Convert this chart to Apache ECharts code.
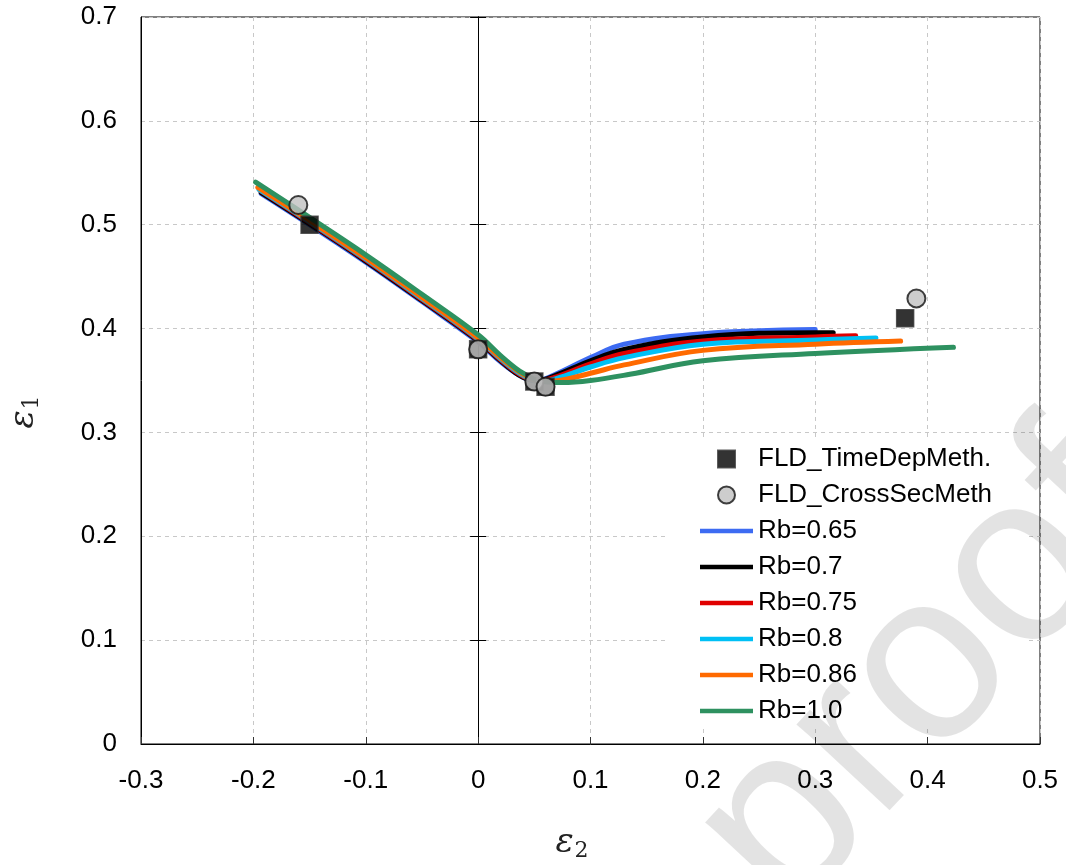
<!DOCTYPE html>
<html><head><meta charset="utf-8">
<script src="https://cdn.jsdelivr.net/npm/echarts@6/dist/echarts.min.js"></script>
<style>html,body{margin:0;padding:0;background:#fff}#c{width:1066px;height:865px}</style>
</head><body><div id="c"></div>
<script>
// ---- data ----
const xMin = -0.3, xMax = 0.5, yMin = 0, yMax = 0.7, tickStep = 0.1;
const timeDepPts = [[-0.15,0.50],[0.0,0.38],[0.05,0.349],[0.06,0.344],[0.38,0.41]];
const crossSecPts = [[-0.16,0.519],[0.0,0.38],[0.05,0.349],[0.06,0.344],[0.39,0.429]];
const rb065 = [[-0.193,0.530],[-0.15,0.500],[-0.1,0.464],[-0.05,0.426],[0,0.387],[0.02,0.368],[0.04,0.353],[0.052,0.350],[0.067,0.355],[0.10,0.372],[0.13,0.385],[0.2,0.395],[0.3,0.399]];
const rb07  = [[-0.193,0.531],[-0.15,0.501],[-0.1,0.465],[-0.05,0.427],[0,0.388],[0.02,0.369],[0.04,0.353],[0.053,0.350],[0.067,0.354],[0.10,0.369],[0.13,0.380],[0.2,0.392],[0.3,0.396],[0.316,0.396]];
const rb075 = [[-0.194,0.533],[-0.15,0.502],[-0.1,0.466],[-0.05,0.428],[0,0.389],[0.02,0.370],[0.04,0.354],[0.054,0.350],[0.068,0.353],[0.10,0.366],[0.13,0.376],[0.2,0.388],[0.3,0.392],[0.336,0.393]];
const rb08  = [[-0.195,0.534],[-0.15,0.503],[-0.1,0.467],[-0.05,0.429],[0,0.390],[0.02,0.371],[0.04,0.355],[0.055,0.349],[0.07,0.352],[0.10,0.363],[0.13,0.372],[0.2,0.385],[0.3,0.389],[0.354,0.391]];
const rb086 = [[-0.196,0.536],[-0.15,0.504],[-0.1,0.468],[-0.05,0.430],[0,0.391],[0.02,0.372],[0.04,0.356],[0.056,0.349],[0.072,0.350],[0.10,0.357],[0.13,0.365],[0.2,0.379],[0.3,0.385],[0.376,0.388]];
const rb10  = [[-0.198,0.541],[-0.15,0.507],[-0.1,0.471],[-0.05,0.433],[0,0.394],[0.02,0.374],[0.04,0.357],[0.058,0.349],[0.075,0.348],[0.10,0.350],[0.135,0.356],[0.2,0.369],[0.3,0.376],[0.423,0.382]];
const curveNames = ['Rb=0.65','Rb=0.7','Rb=0.75','Rb=0.8','Rb=0.86','Rb=1.0'];
const curveData = [rb065, rb07, rb075, rb08, rb086, rb10];
const curveColors = ['#3d6bf2','#000000','#e00000','#00c0f5','#ff6a00','#2e9160'];

const fmt = v => { const r = Math.round(v*10)/10; return r === 0 ? '0' : String(r); };
const FONT = 'Liberation Sans, Arial, sans-serif';

const chart = echarts.init(document.getElementById('c'));
const lineSeries = curveNames.map((n,i) => ({
  name: n, type: 'line', data: curveData[i], symbol: 'none', showSymbol: false,
  smooth: 0.4, z: 2,
  lineStyle: { color: curveColors[i], width: 5, cap: 'round' }, itemStyle: { color: curveColors[i] }
}));
const yBase = { type: 'value', min: yMin, max: yMax, interval: tickStep };
chart.setOption({
  animation: false,
  backgroundColor: '#fff',
  grid: { left: 141, right: 26, top: 17, bottom: 121, show: true, borderColor: '#000', borderWidth: 1, backgroundColor: 'transparent' },
  xAxis: {
    type: 'value', min: xMin, max: xMax, interval: tickStep,
    axisLine: { onZero: false, lineStyle: { color: '#000', width: 1 } },
    axisTick: { show: true, inside: true, length: 7, lineStyle: { color: '#333' } },
    axisLabel: { color: '#000', fontSize: 26, fontFamily: FONT, margin: 24, formatter: fmt },
    splitLine: { show: true, lineStyle: { color: '#c8c8c8', type: [4,4], width: 1 } }
  },
  yAxis: [
    Object.assign({}, yBase, {
      position: 'left',
      axisLine: { show: true, onZero: false, lineStyle: { color: '#000' } },
      axisTick: { show: false },
      axisLabel: { color: '#000', fontSize: 26, fontFamily: FONT, margin: 24, formatter: fmt },
      splitLine: { show: true, lineStyle: { color: '#c8c8c8', type: [4,4], width: 1 } }
    }),
    Object.assign({}, yBase, {
      position: 'left',
      axisLine: { show: true, onZero: true, onZeroAxisIndex: 0, lineStyle: { color: '#000' } },
      axisTick: { show: true, inside: true, length: 8, lineStyle: { color: '#000' } },
      axisLabel: { show: false }, splitLine: { show: false }
    }),
    Object.assign({}, yBase, {
      position: 'left',
      axisLine: { show: true, onZero: true, onZeroAxisIndex: 0, lineStyle: { color: '#000' } },
      axisTick: { show: true, inside: false, length: 8, lineStyle: { color: '#000' } },
      axisLabel: { show: false }, splitLine: { show: false }
    })
  ],
  legend: {
    orient: 'vertical', left: 667, top: 441,
    padding: [5, 33, 5, 33], backgroundColor: '#fff',
    itemWidth: 53, itemHeight: 17, itemGap: 10,
    textStyle: { color: '#000', fontSize: 26, fontFamily: FONT },
    data: [
      { name: 'FLD_TimeDepMeth.', icon: 'path://M0,0h10v10h-10z' },
      { name: 'FLD_CrossSecMeth', icon: 'circle' }
    ].concat(curveNames.map(n => ({ name: n, icon: 'path://M0,0h53v4.5h-53z' })))
  },
  graphic: [
    { type: 'text', x: 572, y: 843, z: 10,
      style: { text: '{e|ε}{s|2}', textAlign: 'center', textVerticalAlign: 'middle',
        rich: { e: { fontFamily: 'DejaVu Serif', fontStyle: 'italic', fontSize: 34, fill: '#222' },
                s: { fontFamily: 'DejaVu Serif', fontSize: 22, fill: '#222', padding: [16,0,0,1] } } } },
    { type: 'text', x: 24, y: 412, rotation: Math.PI/2, z: 10,
      style: { text: '{e|ε}{s|1}', textAlign: 'center', textVerticalAlign: 'middle',
        rich: { e: { fontFamily: 'DejaVu Serif', fontStyle: 'italic', fontSize: 34, fill: '#222' },
                s: { fontFamily: 'DejaVu Serif', fontSize: 22, fill: '#222', padding: [16,0,0,1] } } } },
    { type: 'text', x: 1112, y: 475, rotation: 47*Math.PI/180, z: 100, silent: true,
      style: { text: 'Journal Pre-proof', textAlign: 'right', textVerticalAlign: 'middle',
        fontSize: 240, fontFamily: FONT, fill: 'rgba(0,0,0,0.11)' } }
  ],
  series: lineSeries.concat([
    { name: 'FLD_TimeDepMeth.', type: 'scatter', data: timeDepPts, symbol: 'rect', symbolSize: 17, z: 5,
      itemStyle: { color: '#000', borderColor: '#333', borderWidth: 1.5 } },
    { name: 'FLD_CrossSecMeth', type: 'scatter', data: crossSecPts, symbol: 'circle', symbolSize: 18, z: 6,
      itemStyle: { color: '#c0c0c0', borderColor: '#111', borderWidth: 2 } }
  ])
});
</script></body></html>
